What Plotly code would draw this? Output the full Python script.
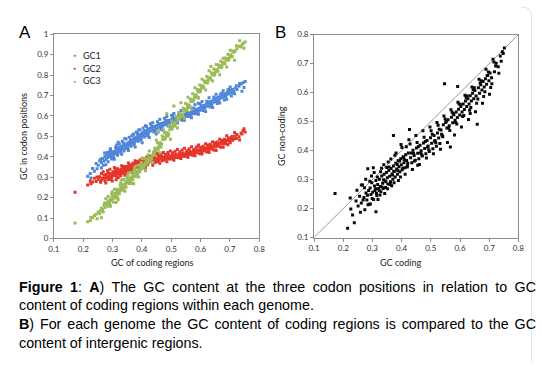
import plotly.graph_objects as go

# ---------------- data (one entry per genome) ----------------
gc_coding = [
    0.172,0.215,0.224,0.232,0.238,0.244,0.251,0.256,0.262,0.266,0.271,0.274,0.278,0.281,0.284,0.287,0.289,0.292,0.295,0.298,
    0.301,0.304,0.307,0.309,0.312,0.315,0.318,0.321,0.324,0.327,0.329,0.332,0.335,0.337,0.340,0.343,0.345,0.348,0.351,0.353,
    0.356,0.359,0.362,0.364,0.367,0.370,0.372,0.375,0.378,0.380,0.383,0.386,0.388,0.391,0.394,0.397,0.399,0.402,0.405,0.408,
    0.411,0.414,0.417,0.420,0.423,0.427,0.431,0.435,0.439,0.443,0.447,0.451,0.455,0.459,0.463,0.467,0.471,0.475,0.479,0.483,
    0.487,0.491,0.495,0.499,0.503,0.507,0.511,0.515,0.519,0.523,0.527,0.531,0.535,0.539,0.543,0.547,0.551,0.555,0.559,0.563,
    0.567,0.571,0.575,0.579,0.583,0.587,0.591,0.595,0.599,0.603,0.607,0.611,0.615,0.619,0.623,0.627,0.631,0.635,0.639,0.643,
    0.647,0.651,0.655,0.659,0.663,0.667,0.671,0.675,0.679,0.683,0.687,0.691,0.695,0.699,0.703,0.708,0.713,0.718,0.724,0.731,
    0.738,0.745,0.752,
    0.262,0.277,0.293,0.306,0.319,0.331,0.342,0.354,0.366,0.377,0.389,0.401,0.412,0.425,0.437,0.449,0.461,0.473,0.485,0.497,
    0.509,0.521,0.533,0.545,0.557,0.569,0.581,0.593,0.605,0.617,0.629,0.641,0.653,0.665,0.677,0.689,0.701,0.716,0.733,0.748,
    0.283,0.297,0.311,0.326,0.338,0.349,0.361,0.373,0.385,0.396,0.407,0.419,0.433,0.444,0.457,0.469,0.481,0.493,0.505,0.517,
    0.529,0.541,0.553,0.565,0.577,0.589,0.601,0.613,0.625,0.637,0.649,0.661,0.673,0.685,0.697,0.709,
    0.226,0.247,0.259,0.268,0.273,0.285,0.291,0.299,0.303,0.314,0.317,0.323,0.328,0.333,0.339,0.346,0.352,0.357,0.363,0.369,
    0.374,0.381,0.387,0.393,0.398,0.404,0.409,0.416,0.421,0.429,0.441,0.453,0.465,0.477,0.489,0.501,0.513,0.525,0.537,0.549,
    0.561,0.573,0.585,0.597,0.609,0.621,0.633,0.645,0.657,0.669,0.681,0.693,0.705,0.722,0.741,0.455,0.372,0.312,0.592,0.635,
]

gc1 = [
    None,0.305,0.318,0.342,0.329,0.367,0.358,0.381,0.372,0.392,0.379,0.401,0.388,0.412,0.396,0.405,0.419,0.402,0.414,0.398,
    0.421,0.409,0.427,0.416,0.432,0.419,0.438,0.426,0.445,0.431,0.452,0.437,0.448,0.461,0.443,0.456,0.439,0.463,0.452,0.469,
    0.457,0.474,0.461,0.479,0.468,0.486,0.472,0.491,0.478,0.496,0.484,0.503,0.489,0.507,0.494,0.512,0.501,0.518,0.506,0.523,
    0.511,0.528,0.516,0.533,0.521,0.538,0.526,0.543,0.531,0.548,0.536,0.553,0.541,0.558,0.547,0.563,0.552,0.568,0.557,0.573,
    0.561,0.577,0.566,0.581,0.571,0.586,0.575,0.591,0.579,0.594,0.584,0.598,0.588,0.602,0.592,0.607,0.597,0.611,0.601,0.616,
    0.606,0.621,0.611,0.626,0.617,0.632,0.622,0.638,0.628,0.644,0.634,0.651,0.641,0.657,0.647,0.664,0.654,0.671,0.661,0.678,
    0.668,0.684,0.674,0.691,0.681,0.697,0.688,0.703,0.694,0.709,0.701,0.716,0.707,0.722,0.713,0.729,0.721,0.737,0.729,0.745,
    0.756,0.762,0.768,
    0.345,0.361,0.439,0.388,0.471,0.412,0.489,0.431,0.503,0.448,0.531,0.469,0.552,0.494,0.567,0.511,0.583,0.529,0.597,0.548,
    0.612,0.565,0.627,0.579,0.641,0.591,0.655,0.608,0.671,0.622,0.689,0.641,0.706,0.663,0.723,0.681,0.741,0.709,0.758,0.739,
    0.421,0.389,0.447,0.423,0.467,0.448,0.482,0.459,0.514,0.481,0.526,0.503,0.549,0.527,0.561,0.539,0.579,0.558,0.597,0.581,
    0.609,0.596,0.622,0.609,0.636,0.621,0.653,0.637,0.669,0.652,0.687,0.671,0.711,0.694,0.731,0.712,
    0.296,0.341,0.388,0.359,0.418,0.376,0.431,0.425,0.396,0.458,0.407,0.462,0.419,0.476,0.428,0.487,0.441,0.496,0.452,0.507,
    0.466,0.521,0.476,0.532,0.488,0.541,0.497,0.548,0.509,0.561,0.521,0.571,0.534,0.588,0.551,0.603,0.566,0.611,0.579,0.629,
    0.597,0.639,0.611,0.659,0.626,0.672,0.643,0.692,0.661,0.709,0.678,0.727,0.697,0.748,0.721,0.521,0.511,0.445,0.662,0.655,
]

gc2 = [
    0.226,0.262,0.281,0.276,0.295,0.279,0.289,0.302,0.286,0.295,0.309,0.282,0.313,0.298,0.321,0.305,0.294,0.318,0.301,0.312,
    0.326,0.308,0.319,0.331,0.311,0.323,0.317,0.334,0.314,0.328,0.338,0.321,0.332,0.343,0.326,0.337,0.348,0.331,0.341,0.352,
    0.336,0.347,0.356,0.339,0.351,0.362,0.344,0.357,0.366,0.349,0.361,0.371,0.354,0.366,0.376,0.358,0.369,0.379,0.363,0.374,
    0.384,0.367,0.378,0.388,0.372,0.382,0.391,0.376,0.386,0.395,0.379,0.389,0.398,0.383,0.393,0.401,0.386,0.396,0.404,0.389,
    0.398,0.407,0.392,0.401,0.409,0.395,0.404,0.412,0.398,0.407,0.415,0.401,0.411,0.418,0.405,0.414,0.421,0.409,0.418,0.426,
    0.413,0.422,0.429,0.417,0.426,0.434,0.421,0.431,0.439,0.426,0.436,0.444,0.431,0.441,0.449,0.436,0.447,0.455,0.442,0.452,
    0.461,0.448,0.459,0.467,0.455,0.466,0.474,0.462,0.473,0.481,0.469,0.481,0.489,0.477,0.491,0.499,0.487,0.501,0.509,0.498,
    0.516,0.528,0.521,
    0.318,0.272,0.289,0.348,0.297,0.356,0.309,0.369,0.322,0.381,0.336,0.393,0.347,0.404,0.359,0.413,0.368,0.421,0.376,0.428,
    0.383,0.435,0.391,0.442,0.398,0.449,0.405,0.457,0.413,0.464,0.421,0.473,0.431,0.486,0.446,0.503,0.469,0.519,0.482,0.537,
    0.331,0.296,0.339,0.306,0.352,0.321,0.359,0.334,0.374,0.347,0.386,0.361,0.397,0.371,0.406,0.381,0.412,0.389,0.419,0.396,
    0.424,0.403,0.429,0.411,0.436,0.419,0.446,0.428,0.457,0.438,0.468,0.451,0.479,0.464,0.492,0.481,
    0.268,0.301,0.275,0.327,0.296,0.289,0.339,0.281,0.318,0.302,0.341,0.329,0.309,0.345,0.318,0.352,0.327,0.361,0.337,0.368,
    0.345,0.377,0.351,0.384,0.359,0.391,0.366,0.397,0.372,0.402,0.409,0.376,0.414,0.384,0.421,0.389,0.427,0.395,0.433,0.402,
    0.439,0.407,0.446,0.415,0.452,0.423,0.461,0.433,0.472,0.447,0.486,0.459,0.496,0.489,0.511,0.417,0.341,0.287,0.451,0.449,
]

gc3 = [
    0.076,0.082,0.088,0.101,0.112,0.118,0.129,0.121,0.148,0.142,0.163,0.152,0.171,0.166,0.158,0.184,0.176,0.191,0.186,0.203,
    0.196,0.212,0.205,0.221,0.214,0.229,0.219,0.238,0.231,0.247,0.242,0.256,0.249,0.263,0.258,0.271,0.266,0.279,0.274,0.287,
    0.281,0.293,0.288,0.301,0.296,0.309,0.305,0.317,0.311,0.323,0.329,0.324,0.337,0.331,0.345,0.339,0.353,0.346,0.361,0.355,
    0.369,0.362,0.377,0.371,0.386,0.379,0.396,0.405,0.416,0.409,0.431,0.442,0.436,0.458,0.469,0.462,0.484,0.493,0.486,0.508,
    0.517,0.511,0.532,0.541,0.536,0.558,0.566,0.561,0.579,0.587,0.581,0.601,0.609,0.603,0.623,0.631,0.626,0.648,0.655,0.649,
    0.671,0.679,0.672,0.694,0.702,0.696,0.717,0.724,0.718,0.741,0.748,0.742,0.763,0.769,0.761,0.782,0.788,0.781,0.801,0.807,
    0.799,0.819,0.826,0.818,0.838,0.845,0.837,0.856,0.863,0.855,0.874,0.881,0.872,0.892,0.899,0.891,0.911,0.918,0.929,0.941,
    0.937,0.956,0.962,
    0.102,0.195,0.158,0.241,0.189,0.286,0.231,0.321,0.269,0.352,0.301,0.391,0.331,0.428,0.372,0.481,0.419,0.531,0.611,0.486,
    0.648,0.541,0.664,0.588,0.691,0.633,0.738,0.687,0.779,0.727,0.821,0.771,0.851,0.801,0.882,0.839,0.921,0.872,0.968,0.931,
    0.178,0.219,0.198,0.262,0.243,0.298,0.276,0.331,0.314,0.362,0.344,0.392,0.389,0.442,0.447,0.501,0.497,0.553,0.547,0.597,
    0.593,0.637,0.633,0.683,0.681,0.729,0.729,0.771,0.769,0.811,0.807,0.849,0.846,0.883,0.881,0.918,
    0.104,0.097,0.136,0.129,0.174,0.205,0.167,0.229,0.178,0.241,0.201,0.219,0.272,0.236,0.289,0.251,0.306,0.269,0.322,0.287,
    0.341,0.303,0.357,0.326,0.372,0.348,0.389,0.371,0.409,0.392,0.426,0.468,0.448,0.519,0.501,0.574,0.551,0.617,0.597,0.661,
    0.643,0.709,0.693,0.751,0.739,0.793,0.781,0.829,0.822,0.867,0.858,0.902,0.889,0.943,0.947,0.521,0.268,0.176,0.689,0.842,
]

gc_noncoding = [
    0.252,0.132,0.236,0.178,0.151,0.226,0.209,0.242,0.219,0.281,0.238,0.196,0.254,0.229,0.337,0.262,0.215,0.271,0.248,0.289,
    0.256,0.231,0.278,0.262,0.297,0.244,0.283,0.269,0.301,0.276,0.258,0.312,0.287,0.269,0.318,0.296,0.273,0.324,0.306,0.285,
    0.331,0.311,0.292,0.338,0.319,0.301,0.347,0.328,0.309,0.356,0.336,0.318,0.365,0.344,0.327,0.372,0.351,0.334,0.379,0.358,
    0.341,0.386,0.366,0.348,0.392,0.473,0.375,0.358,0.401,0.383,0.367,0.409,0.391,0.372,0.418,0.399,0.381,0.426,0.407,0.389,
    0.435,0.416,0.397,0.444,0.425,0.406,0.452,0.434,0.415,0.461,0.443,0.424,0.471,0.452,0.489,0.631,0.497,0.478,0.506,0.486,
    0.412,0.515,0.496,0.524,0.505,0.533,0.514,0.543,0.523,0.552,0.533,0.561,0.542,0.571,0.552,0.579,0.561,0.589,0.571,0.598,
    0.579,0.607,0.588,0.491,0.617,0.598,0.627,0.609,0.638,0.619,0.648,0.629,0.659,0.641,0.668,0.651,0.715,0.672,0.701,0.689,
    0.726,0.741,0.754,
    0.281,0.301,0.216,0.324,0.231,0.339,0.252,0.361,0.279,0.384,0.297,0.411,0.318,0.437,0.335,0.452,0.352,0.468,0.374,0.481,
    0.389,0.497,0.405,0.519,0.428,0.541,0.454,0.567,0.481,0.591,0.507,0.619,0.534,0.646,0.563,0.681,0.594,0.706,0.667,0.735,
    0.246,0.312,0.268,0.247,0.299,0.342,0.283,0.329,0.352,0.309,0.376,0.343,0.392,0.364,0.413,0.386,0.431,0.403,0.456,0.427,
    0.474,0.448,0.501,0.469,0.528,0.492,0.559,0.521,0.588,0.549,0.617,0.578,0.641,0.603,0.671,0.631,
    0.198,0.263,0.187,0.229,0.272,0.213,0.294,0.235,0.341,0.252,0.309,0.262,0.327,0.274,0.351,0.292,0.268,0.343,0.371,0.316,
    0.289,0.392,0.331,0.364,0.421,0.339,0.369,0.413,0.356,0.423,0.391,0.428,0.392,0.446,0.412,0.468,0.433,0.487,0.456,0.509,
    0.478,0.532,0.497,0.561,0.518,0.583,0.539,0.611,0.563,0.633,0.587,0.659,0.618,0.692,0.708,0.349,0.452,0.189,0.621,0.528,
]

diag = [0.1, 0.8]
series_names = ["GC1", "GC2", "GC3"]
series_colors = ["#4F86D9", "#E5352B", "#9BBB59"]
ticks_a_x = [0.1, 0.2, 0.3, 0.4, 0.5, 0.6, 0.7, 0.8]
ticks_a_y = [0, 0.1, 0.2, 0.3, 0.4, 0.5, 0.6, 0.7, 0.8, 0.9, 1]
ticks_b = [0.1, 0.2, 0.3, 0.4, 0.5, 0.6, 0.7, 0.8]

# ---------------- figure ----------------
W, H = 542, 368
def px(x): return x / W
def py(y): return 1 - y / H

fig = go.Figure()
for name, col, ys in zip(series_names, series_colors, [gc1, gc2, gc3]):
    fig.add_trace(go.Scatter(x=gc_coding, y=ys, mode="markers", name=name,
                             marker=dict(size=3, symbol="square", color=col, line=dict(width=0)),
                             xaxis="x", yaxis="y", showlegend=False))
fig.add_trace(go.Scatter(x=diag, y=diag, mode="lines", line=dict(color="#9a9a9a", width=1),
                         xaxis="x2", yaxis="y2", showlegend=False))
fig.add_trace(go.Scatter(x=gc_coding, y=gc_noncoding, mode="markers",
                         marker=dict(size=3, symbol="square", color="#0a0a0a", line=dict(width=0)),
                         xaxis="x2", yaxis="y2", showlegend=False))

tickfont = dict(family="Lato, Open Sans, sans-serif", size=8, color="#333333")
axis_common = dict(showline=True, linecolor="#8c8c8c", linewidth=1, mirror=True,
                   ticks="outside", ticklen=3, tickcolor="#8c8c8c", tickwidth=1,
                   showgrid=False, zeroline=False, tickfont=tickfont)

fig.update_layout(
    width=W, height=H, margin=dict(l=0, r=0, t=0, b=0),
    paper_bgcolor="white", plot_bgcolor="white", showlegend=False,
    xaxis=dict(domain=[px(49), px(259)], range=[0.1, 0.8], tickvals=ticks_a_x, anchor="y", **axis_common),
    yaxis=dict(domain=[py(240), py(30)], range=[0, 1], tickvals=ticks_a_y, anchor="x", **axis_common),
    xaxis2=dict(domain=[px(315), px(524)], range=[0.1, 0.8], tickvals=ticks_b, anchor="y2", **axis_common),
    yaxis2=dict(domain=[py(239), py(30.5)], range=[0.1, 0.8], tickvals=ticks_b, anchor="x2", **axis_common),
)

title_font = dict(family="Lato, Open Sans, sans-serif", size=9, color="#222222")
ann = []
ann.append(dict(x=px(150), y=py(265), text="GC of coding regions", font=title_font))
ann.append(dict(x=px(403), y=py(265), text="GC coding", font=title_font))
ann.append(dict(x=px(18), y=py(135), text="GC in codon positions", font=title_font, textangle=-90))
ann.append(dict(x=px(282), y=py(135), text="GC non-coding", font=title_font, textangle=-90))
ann.append(dict(x=px(19), y=py(28), text="A", font=dict(family="Liberation Sans, Arial", size=17, color="black")))
ann.append(dict(x=px(281), y=py(28), text="B", font=dict(family="Liberation Sans, Arial", size=17, color="black")))
# legend
for i, (name, col) in enumerate(zip(series_names, series_colors)):
    yy = 51.5 + i * 13.3
    ann.append(dict(x=px(70.5), y=py(yy), text="●", font=dict(size=5, color=col)))
    ann.append(dict(x=px(77), y=py(yy), text=name, xanchor="left", font=title_font))
# caption
cap_font = dict(family="Liberation Sans, Arial, sans-serif", size=14.3, color="black")
caption = [
    ("<b>Figure 1</b>: <b>A</b>) The GC content at the three codon positions in relation to GC", 290),
    ("content of coding regions within each genome.", 308),
    ("<b>B</b>) For each genome the GC content of coding regions is compared to the GC", 328),
    ("content of intergenic regions.", 347),
]
for txt, yy in caption:
    ann.append(dict(x=px(11), y=py(yy), text=txt, xanchor="left", align="left", font=cap_font))

for a in ann:
    a.setdefault("xanchor", "center")
    a.update(xref="paper", yref="paper", yanchor="middle", showarrow=False)
fig.update_layout(annotations=ann)

# faint page border on the right
fig.add_shape(type="path", xref="paper", yref="paper",
              path=f"M {px(527)},{py(2)} Q {px(537.5)},{py(2)} {px(537.5)},{py(12)} L {px(537.5)},{py(368)}",
              line=dict(color="#e2e2e2", width=1))

post = """
document.body.style.margin = '0';
document.body.style.overflow = 'hidden';
var gdiv = document.getElementsByClassName('plotly-graph-div')[0];
var texts = gdiv.querySelectorAll('text.annotation-text');
texts.forEach(function (t) {
  var s = t.textContent;
  if (s.indexOf('relation to GC') >= 0 || s.indexOf('compared to the GC') >= 0) {
    t.style.wordSpacing = '0px';
    var w = t.getComputedTextLength();
    var n = (s.match(/ /g) || []).length;
    if (n > 0 && w < 517) { t.style.wordSpacing = ((517 - w) / n) + 'px'; }
  }
});
"""
fig.write_html("out.html", post_script=post, config={"displayModeBar": False})
